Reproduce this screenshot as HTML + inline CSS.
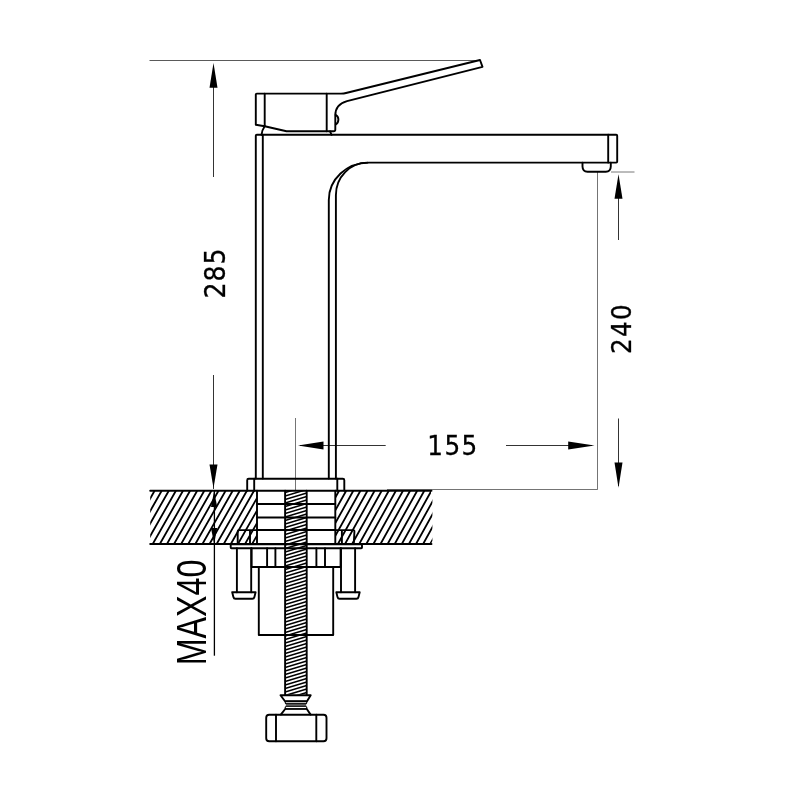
<!DOCTYPE html>
<html lang="en"><head><meta charset="utf-8"><title>Basin mixer dimensions</title>
<style>html,body{margin:0;padding:0;background:#fff}body{width:800px;height:800px;overflow:hidden}svg{display:block}.k{fill:none;stroke:#000;stroke-width:1.9;stroke-linejoin:round;stroke-linecap:round}.t{fill:none;stroke:#000;stroke-width:0.8}.h{fill:none;stroke:#000;stroke-width:1.8}.r{fill:none;stroke:#000;stroke-width:1.5}.a{fill:#000;stroke:none}svg{will-change:transform}text{font-family:"DejaVu Sans","Liberation Sans",sans-serif;fill:#000}.c{font-family:"DejaVu Sans Condensed","DejaVu Sans","Liberation Sans",sans-serif;stroke:#000;stroke-width:0.3px}.l{font-family:"Liberation Sans",Arial,sans-serif}</style></head><body>
<svg width="800" height="800" viewBox="0 0 800 800">
<rect width="800" height="800" fill="#fff"/>
<defs>
<clipPath id="cL"><path d="M150.2 490.75H257V544H150.2Z"/></clipPath>
<clipPath id="cR"><path d="M335.2 490.75H431V497L432.4 499V541L431 544H335.2Z"/></clipPath>
<clipPath id="cRod"><rect x="285.1" y="490.75" width="21.6" height="204"/></clipPath>
</defs>
<g clip-path="url(#cL)" class="h"><path d="M110.14 544.00L140.40 490.75M117.24 544.00L147.50 490.75M124.34 544.00L154.60 490.75M131.44 544.00L161.70 490.75M138.54 544.00L168.80 490.75M145.64 544.00L175.90 490.75M152.74 544.00L183.00 490.75M159.84 544.00L190.10 490.75M166.94 544.00L197.20 490.75M174.04 544.00L204.30 490.75M181.14 544.00L211.40 490.75M188.24 544.00L218.50 490.75M195.34 544.00L225.60 490.75M202.44 544.00L232.70 490.75M209.54 544.00L239.80 490.75M216.64 544.00L246.90 490.75M223.74 544.00L254.00 490.75M230.84 544.00L261.10 490.75M237.94 544.00L268.20 490.75M245.04 544.00L275.30 490.75M252.14 544.00L282.40 490.75M259.24 544.00L289.50 490.75"/></g>
<g clip-path="url(#cR)" class="h"><path d="M295.32 544.00L324.90 490.75M302.42 544.00L332.00 490.75M309.52 544.00L339.10 490.75M316.62 544.00L346.20 490.75M323.72 544.00L353.30 490.75M330.82 544.00L360.40 490.75M337.92 544.00L367.50 490.75M345.02 544.00L374.60 490.75M352.12 544.00L381.70 490.75M359.22 544.00L388.80 490.75M366.32 544.00L395.90 490.75M373.42 544.00L403.00 490.75M380.52 544.00L410.10 490.75M387.62 544.00L417.20 490.75M394.72 544.00L424.30 490.75M401.82 544.00L431.40 490.75M408.92 544.00L438.50 490.75M416.02 544.00L445.60 490.75M423.12 544.00L452.70 490.75M430.22 544.00L459.80 490.75M437.32 544.00L466.90 490.75"/></g>
<g clip-path="url(#cRod)" class="r"><path d="M285.1 485.60L306.7 479.00M285.1 489.10L306.7 482.50M285.1 492.60L306.7 486.00M285.1 496.10L306.7 489.50M285.1 499.60L306.7 493.00M285.1 503.10L306.7 496.50M285.1 506.60L306.7 500.00M285.1 510.10L306.7 503.50M285.1 513.60L306.7 507.00M285.1 517.10L306.7 510.50M285.1 520.60L306.7 514.00M285.1 524.10L306.7 517.50M285.1 527.60L306.7 521.00M285.1 531.10L306.7 524.50M285.1 534.60L306.7 528.00M285.1 538.10L306.7 531.50M285.1 541.60L306.7 535.00M285.1 545.10L306.7 538.50M285.1 548.60L306.7 542.00M285.1 552.10L306.7 545.50M285.1 555.60L306.7 549.00M285.1 559.10L306.7 552.50M285.1 562.60L306.7 556.00M285.1 566.10L306.7 559.50M285.1 569.60L306.7 563.00M285.1 573.10L306.7 566.50M285.1 576.60L306.7 570.00M285.1 580.10L306.7 573.50M285.1 583.60L306.7 577.00M285.1 587.10L306.7 580.50M285.1 590.60L306.7 584.00M285.1 594.10L306.7 587.50M285.1 597.60L306.7 591.00M285.1 601.10L306.7 594.50M285.1 604.60L306.7 598.00M285.1 608.10L306.7 601.50M285.1 611.60L306.7 605.00M285.1 615.10L306.7 608.50M285.1 618.60L306.7 612.00M285.1 622.10L306.7 615.50M285.1 625.60L306.7 619.00M285.1 629.10L306.7 622.50M285.1 632.60L306.7 626.00M285.1 636.10L306.7 629.50M285.1 639.60L306.7 633.00M285.1 643.10L306.7 636.50M285.1 646.60L306.7 640.00M285.1 650.10L306.7 643.50M285.1 653.60L306.7 647.00M285.1 657.10L306.7 650.50M285.1 660.60L306.7 654.00M285.1 664.10L306.7 657.50M285.1 667.60L306.7 661.00M285.1 671.10L306.7 664.50M285.1 674.60L306.7 668.00M285.1 678.10L306.7 671.50M285.1 681.60L306.7 675.00M285.1 685.10L306.7 678.50M285.1 688.60L306.7 682.00M285.1 692.10L306.7 685.50M285.1 695.60L306.7 689.00M285.1 699.10L306.7 692.50M285.1 702.60L306.7 696.00"/></g>
<g class="t">
<path d="M149.5 60.5H480" stroke-width="0.65"/>
<path d="M213.5 66V177M213.5 375V489"/>
<path d="M214.4 491V655.7" stroke-width="1.3" stroke="#000"/>
<path d="M611 172H634.5" stroke-width="0.8" stroke="#555"/>
<path d="M597.5 172V489.5H387" stroke-width="0.55"/>
<path d="M618.5 178V240M618.5 418.5V486"/>
<path d="M295.5 418V491" stroke-width="0.55"/>
<path d="M300 445.5H385.7M506 445.5H592"/>
</g>
<g class="a">
<path d="M213.5 63L209.5 87.8H217.5Z"/>
<path d="M213.5 488.3L209.5 464.5H217.5Z"/>
<path d="M214.1 491L211 507H217.2Z"/>
<path d="M214.1 544L211 528H217.2Z"/>
<path d="M618.5 174.3L614.5 198.7H622.5Z"/>
<path d="M618.5 487.8L614.5 462.5H622.5Z"/>
<path d="M298 445.5L323.5 441.5V449.5Z"/>
<path d="M594.5 445.5L568.2 441.5V449.5Z"/>
</g>
<g class="k">
<path d="M150.2 490.75H431.5M150.2 544H431.5"/>
<path d="M256.8 93.6Q255.8 93.6 255.8 94.6V124.7L264.7 126.2L286.5 131.3H333.5Q335.3 131.3 335.3 129.5V115.5C335.3 108 339 103.4 347 101.2L482.5 66.8L480 60L346 93Q344 93.6 341 93.6Z"/>
<path d="M264.7 93.6V126.2M326.7 93.6V131.3"/>
<path d="M335.6 114.8Q338.4 116.2 338.4 119.6Q338.4 123 335.8 124.4"/>
<path d="M264.7 126.2Q262 130 261.5 134.8M330 131.3L331.6 134.8"/>
<path d="M255.8 478.5V135.8Q255.8 134.8 256.8 134.8H616.2Q617.2 134.8 617.2 135.8V161.6Q617.2 162.6 616.2 162.6H368.8A40 37.4 0 0 0 328.8 200V478.5"/>
<path d="M262.8 134.8V478.5M608.2 134.8V162.6"/>
<path d="M367.5 162.6A31.6 32.4 0 0 0 335.9 195V478.5"/>
<path d="M582.5 162.6V166.5Q582.6 171.7 587.5 171.7H605.8Q610.7 171.7 610.8 166.5V162.6"/>
<path d="M247.2 490.75V480.2Q247.2 478.75 248.7 478.75H342.8Q344.3 478.75 344.3 480.2V490.75"/>
<path d="M254.2 478.75V490.75M337.3 478.75V490.75"/>
<path d="M257 490.75V544M335.3 490.75V544"/>
<path d="M257 504H335.3M257 517.5H335.3M257 530H335.3"/>
<path d="M257 530.1H239Q237.7 530.1 237.7 531.4V544M335.3 530.1H353Q354.5 530.1 354.4 531.6L353.8 544M250 530.1V544M341.9 530.1V544"/>
<path d="M231.5 544.4H361.2Q362 544.4 362 545.2V547.4Q362 548.2 361.2 548.2H231.5Q230.7 548.2 230.7 547.4V545.2Q230.7 544.4 231.5 544.4Z"/>
<path d="M236.9 548.2V592.2M251.2 548.2V592.2"/>
<path d="M232.2 592.2H255.6L254.4 597Q254.0 598.8 252.4 598.8H235.4Q233.8 598.8 233.4 597Z"/>
<path d="M341.0 548.2V592.2M355.1 548.2V592.2"/>
<path d="M336.3 592.2H359.7L358.5 597Q358.1 598.8 356.5 598.8H339.5Q337.9 598.8 337.5 597Z"/>
<path d="M251.6 548.2V567H340.6V548.2"/>
<path d="M267.1 548.2V567M275.4 548.2V567M316.4 548.2V567M325 548.2V567"/>
<path d="M258.8 567V635H333.2V567"/>
<path d="M285.1 490.75V695M306.7 490.75V695"/>
<path d="M280.5 695.2H310.7L307 701.2H285Z"/>
<rect x="285.2" y="701.3" width="21.6" height="2.3" rx="1.1" stroke-width="1.1"/>
<rect x="285.2" y="706.5" width="21.6" height="2.4" rx="1.1" stroke-width="1.1"/>
<path d="M285.4 709H306.6" stroke-width="1.5"/>
<path d="M285.2 709L280.8 714.6M306.8 709L310.6 714.6"/>
<rect x="266.2" y="714.8" width="60.3" height="26.4" rx="3" ry="3"/>
<path d="M276 714.8V741.2M316.3 714.8V741.2"/>
</g>
<rect x="285.8" y="703.7" width="20.4" height="2.7" fill="#555"/>
<text class="c" transform="translate(225.00 272.90) rotate(-90) scale(1.000 1)" font-size="28.00" text-anchor="middle" style="letter-spacing:1.00px">285</text>
<text class="c" transform="translate(630.80 328.50) rotate(-90) scale(1.000 1)" font-size="27.40" text-anchor="middle" style="letter-spacing:1.30px">240</text>
<text class="c" transform="translate(453.0 454.7)" font-size="27.4" text-anchor="middle" style="letter-spacing:1.5px">155</text>
<text class="l" transform="translate(205.50 612.40) rotate(-90) scale(0.768 1)" font-size="42.00" text-anchor="middle" style="letter-spacing:0.00px">MAX40</text>
</svg></body></html>
